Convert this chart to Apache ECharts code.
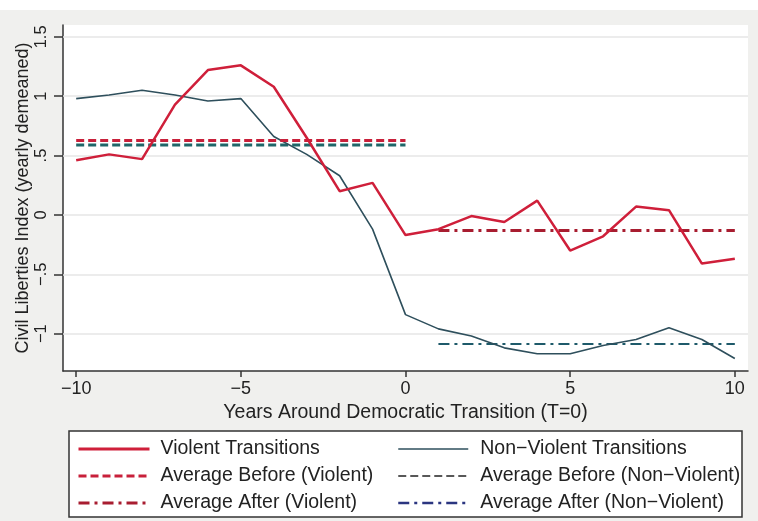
<!DOCTYPE html>
<html>
<head>
<meta charset="utf-8">
<script src="https://cdn.jsdelivr.net/npm/echarts@6/dist/echarts.min.js"></script>
<style>
html, body { margin: 0; padding: 0; background: #f0f0ee; }
#main { width: 758px; height: 521px; }
</style>
</head>
<body>
<div id="main"></div>
<script>
// years around the transition
var years = [-10, -9, -8, -7, -6, -5, -4, -3, -2, -1, 0, 1, 2, 3, 4, 5, 6, 7, 8, 9, 10];
var violent = [0.46, 0.51, 0.47, 0.93, 1.22, 1.26, 1.08, 0.65, 0.20, 0.27, -0.17, -0.12, -0.01, -0.06, 0.12, -0.30, -0.18, 0.07, 0.04, -0.41, -0.37];
var nonViolent = [0.98, 1.01, 1.05, 1.01, 0.96, 0.98, 0.66, 0.51, 0.33, -0.12, -0.84, -0.96, -1.02, -1.12, -1.17, -1.17, -1.10, -1.05, -0.95, -1.05, -1.21];

// averages: [from, to, level]
var avgBeforeViolent = [-10, 0, 0.627];
var avgBeforeNonViolent = [-10, 0, 0.59];
var avgAfterViolent = [1, 10, -0.132];
var avgAfterNonViolent = [1, 10, -1.088];

var xTicks = [-10, -5, 0, 5, 10];
var yTicks = [-1, -0.5, 0, 0.5, 1, 1.5];

function pairs(xs, ys) {
    return xs.map(function (x, i) { return [x, ys[i]]; });
}
function flat(a) {
    return [[a[0], a[2]], [a[1], a[2]]];
}
function fmt(v) {
    var s = String(v);
    s = s.replace('0.', '.');
    return s.replace('-', '\u2212');
}

var font = 'Liberation Sans';
var chart = echarts.init(document.getElementById('main'));

var legendBase = {
    z: 10,
    top: 439,
    orient: 'vertical',
    padding: 0,
    itemHeight: 14, itemGap: 7,
    itemStyle: { opacity: 0 }
};

var option = {
    backgroundColor: '#f0f0ee',
    animation: false,
    textStyle: { fontFamily: font },
    graphic: [
        { type: 'rect', z: 0, shape: { x: 0, y: 0, width: 758, height: 10 }, style: { fill: '#fff' } },
        { type: 'rect', z: 0, shape: { x: 69, y: 431, width: 673, height: 86 }, style: { fill: '#fff', stroke: '#333', lineWidth: 1.5 } }
    ],
    grid: {
        left: 63, right: 10, top: 25, bottom: 150,
        show: true, backgroundColor: '#fff', borderWidth: 0
    },
    legend: [
        Object.assign({}, legendBase, {
            left: 77,
            itemWidth: 71,
            textStyle: { fontSize: 19.5, color: '#222', fontFamily: font, lineHeight: 20, padding: [0, 0, 0, 6] },
            data: [
                { name: 'Violent Transitions', lineStyle: { width: 3 } },
                { name: 'Average Before (Violent)', lineStyle: { width: 3 } },
                { name: 'Average After (Violent)', lineStyle: { width: 3 } }
            ]
        }),
        Object.assign({}, legendBase, {
            left: 397,
            itemWidth: 70,
            textStyle: { fontSize: 19.5, color: '#222', fontFamily: font, lineHeight: 20, padding: [0, 0, 0, 7] },
            data: [
                { name: 'Non\u2212Violent Transitions', lineStyle: { width: 1.6 } },
                { name: 'Average Before (Non\u2212Violent)', lineStyle: { width: 1.6, color: '#222' } },
                { name: 'Average After (Non\u2212Violent)', lineStyle: { width: 2.5, color: '#2b3580' } }
            ]
        })
    ],
    xAxis: {
        type: 'value',
        min: -10.4, max: 10.4,
        name: 'Years Around Democratic Transition (T=0)',
        nameLocation: 'middle',
        nameGap: 30,
        nameTextStyle: { fontSize: 19.5, color: '#222', fontFamily: font },
        axisLine: { onZero: false, lineStyle: { color: '#333', width: 1.5 } },
        axisTick: { show: true, length: 6, lineStyle: { color: '#333', width: 1.5 }, customValues: xTicks },
        axisLabel: { fontSize: 18, color: '#222', margin: 9, customValues: xTicks, formatter: fmt },
        splitLine: { show: false }
    },
    yAxis: {
        type: 'value',
        min: -1.315, max: 1.6,
        name: 'Civil Liberties Index (yearly demeaned)',
        nameLocation: 'middle',
        nameRotate: 90,
        nameGap: 31,
        nameMoveOverlap: false,
        nameTextStyle: { fontSize: 18, color: '#222', fontFamily: font },
        axisLine: { show: true, onZero: false, lineStyle: { color: '#333', width: 1.5 } },
        axisTick: { show: true, length: 9, lineStyle: { color: '#333', width: 1.5 }, customValues: yTicks },
        axisLabel: { fontSize: 16.5, color: '#222', rotate: 90, margin: 13, customValues: yTicks, formatter: fmt },
        splitLine: { show: false }
    },
    series: [{
        name: 'Violent Transitions',
        type: 'line', symbol: 'none', z: 5,
        data: pairs(years, violent),
        lineStyle: { color: '#cf1f3a', width: 2.5 },
        itemStyle: { color: '#cf1f3a' },
        markLine: {
            silent: true, symbol: 'none', label: { show: false },
            lineStyle: { color: '#e6e6e6', width: 1.5, type: 'solid' },
            z: 1,
            data: yTicks.map(function (v) { return { yAxis: v }; })
        }
    }, {
        name: 'Non\u2212Violent Transitions',
        type: 'line', symbol: 'none', z: 4,
        data: pairs(years, nonViolent),
        lineStyle: { color: '#2e4f5c', width: 1.6 },
        itemStyle: { color: '#2e4f5c' }
    }, {
        name: 'Average Before (Violent)',
        type: 'line', symbol: 'none', z: 4,
        data: flat(avgBeforeViolent),
        lineStyle: { color: '#c8203a', width: 3, type: [8, 4] },
        itemStyle: { color: '#c8203a' }
    }, {
        name: 'Average Before (Non\u2212Violent)',
        type: 'line', symbol: 'none', z: 3,
        data: flat(avgBeforeNonViolent),
        lineStyle: { color: '#1f6668', width: 3, type: [8, 4] },
        itemStyle: { color: '#1f6668' }
    }, {
        name: 'Average After (Violent)',
        type: 'line', symbol: 'none', z: 3,
        data: flat(avgAfterViolent),
        lineStyle: { color: '#a81d30', width: 3, type: [11, 5, 3, 5] },
        itemStyle: { color: '#a81d30' }
    }, {
        name: 'Average After (Non\u2212Violent)',
        type: 'line', symbol: 'none', z: 3,
        data: flat(avgAfterNonViolent),
        lineStyle: { color: '#1e5a6a', width: 2, type: [11, 5, 3, 5] },
        itemStyle: { color: '#1e5a6a' }
    }]
};

chart.setOption(option);
</script>
</body>
</html>
